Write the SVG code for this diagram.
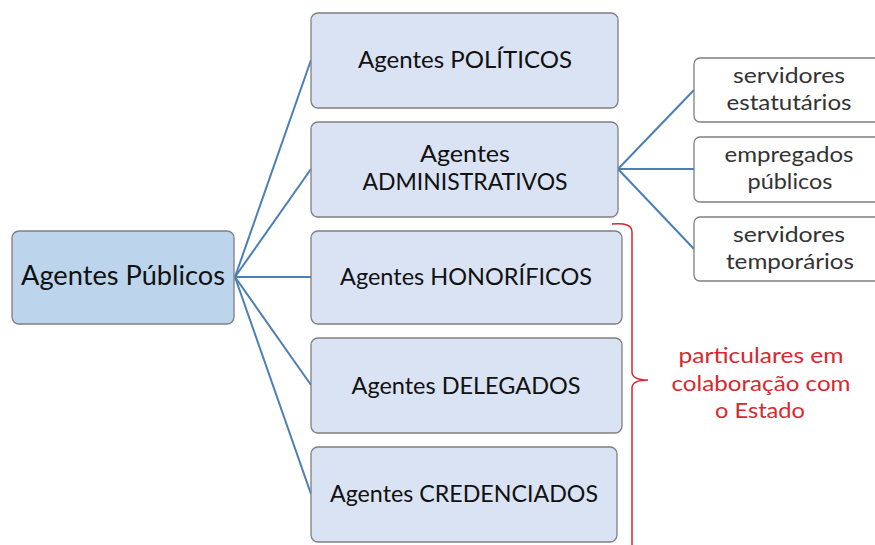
<svg xmlns="http://www.w3.org/2000/svg" width="875" height="545" viewBox="0 0 875 545">
<style>
.main{fill:#dae3f3;stroke:#7f7f7f;stroke-width:1.3}
.root{fill:#bcd5ec;stroke:#7f7f7f;stroke-width:1.3}
.sub{fill:#ffffff;stroke:#7f7f7f;stroke-width:1.3}
.t{font-family:Lato,"Liberation Sans",sans-serif;fill:#111;text-anchor:middle}
.tm{font-size:23px}
.tr{font-size:26px}
.ts{font-size:20.5px;fill:#333}
.red{font-family:Lato,"Liberation Sans",sans-serif;font-size:20.5px;fill:#d9272f;text-anchor:middle}
.con{stroke:#4a7fb5;stroke-width:2;fill:none}
</style>
<rect width="875" height="545" fill="#ffffff"/>
<g id="connectors">
<line class="con" x1="235" y1="277" x2="311" y2="60"/>
<line class="con" x1="235" y1="277" x2="311" y2="169"/>
<line class="con" x1="235" y1="277" x2="311" y2="277"/>
<line class="con" x1="235" y1="277" x2="311" y2="385"/>
<line class="con" x1="235" y1="277" x2="311" y2="494"/>
<line class="con" x1="618" y1="169" x2="694" y2="90"/>
<line class="con" x1="618" y1="169" x2="694" y2="169"/>
<line class="con" x1="618" y1="169" x2="694" y2="249"/>
</g>
<g id="agentes-publicos">
<rect class="root" x="12" y="231" width="222" height="93" rx="7"/>
<text class="t tr" x="123" y="285" textLength="204" lengthAdjust="spacingAndGlyphs">Agentes Públicos</text>
</g>
<g id="agentes-politicos">
<rect class="main" x="311" y="13" width="307" height="95" rx="7"/>
<text class="t tm" x="465" y="68" textLength="214" lengthAdjust="spacingAndGlyphs">Agentes POLÍTICOS</text>
</g>
<g id="agentes-administrativos">
<rect class="main" x="311" y="122" width="307" height="95" rx="7"/>
<text class="t tm" x="465" y="162" textLength="90" lengthAdjust="spacingAndGlyphs">Agentes</text>
<text class="t tm" x="465" y="190" textLength="205" lengthAdjust="spacingAndGlyphs">ADMINISTRATIVOS</text>
</g>
<g id="agentes-honorificos">
<rect class="main" x="311" y="231" width="311" height="93" rx="7"/>
<text class="t tm" x="466" y="285" textLength="252" lengthAdjust="spacingAndGlyphs">Agentes HONORÍFICOS</text>
</g>
<g id="agentes-delegados">
<rect class="main" x="311" y="338" width="311" height="95" rx="7"/>
<text class="t tm" x="466" y="394" textLength="229" lengthAdjust="spacingAndGlyphs">Agentes DELEGADOS</text>
</g>
<g id="agentes-credenciados">
<rect class="main" x="311" y="447" width="306" height="95" rx="7"/>
<text class="t tm" x="464" y="502" textLength="268" lengthAdjust="spacingAndGlyphs">Agentes CREDENCIADOS</text>
</g>
<g id="servidores-estatutarios">
<rect class="sub" x="694" y="58" width="190" height="64" rx="6"/>
<text class="t ts" x="789" y="83" textLength="112" lengthAdjust="spacingAndGlyphs">servidores</text>
<text class="t ts" x="789" y="110" textLength="125" lengthAdjust="spacingAndGlyphs">estatutários</text>
</g>
<g id="empregados-publicos">
<rect class="sub" x="694" y="137" width="190" height="65" rx="6"/>
<text class="t ts" x="789" y="162" textLength="129" lengthAdjust="spacingAndGlyphs">empregados</text>
<text class="t ts" x="790" y="189" textLength="85" lengthAdjust="spacingAndGlyphs">públicos</text>
</g>
<g id="servidores-temporarios">
<rect class="sub" x="694" y="217" width="190" height="64" rx="6"/>
<text class="t ts" x="789" y="242" textLength="112" lengthAdjust="spacingAndGlyphs">servidores</text>
<text class="t ts" x="790" y="269" textLength="128" lengthAdjust="spacingAndGlyphs">temporários</text>
</g>
<g id="brace-particulares">
<path d="M612,224 Q632,222 632,232 L632,372 Q632,380 648,380 Q632,380 632,388 L632,546" fill="none" stroke="#d9272f" stroke-width="1.5"/>
<text class="red" x="761" y="363" textLength="165" lengthAdjust="spacingAndGlyphs">particulares em</text>
<text class="red" x="761" y="391" textLength="179" lengthAdjust="spacingAndGlyphs">colaboração com</text>
<text class="red" x="760" y="418" textLength="90" lengthAdjust="spacingAndGlyphs">o Estado</text>
</g>
</svg>
